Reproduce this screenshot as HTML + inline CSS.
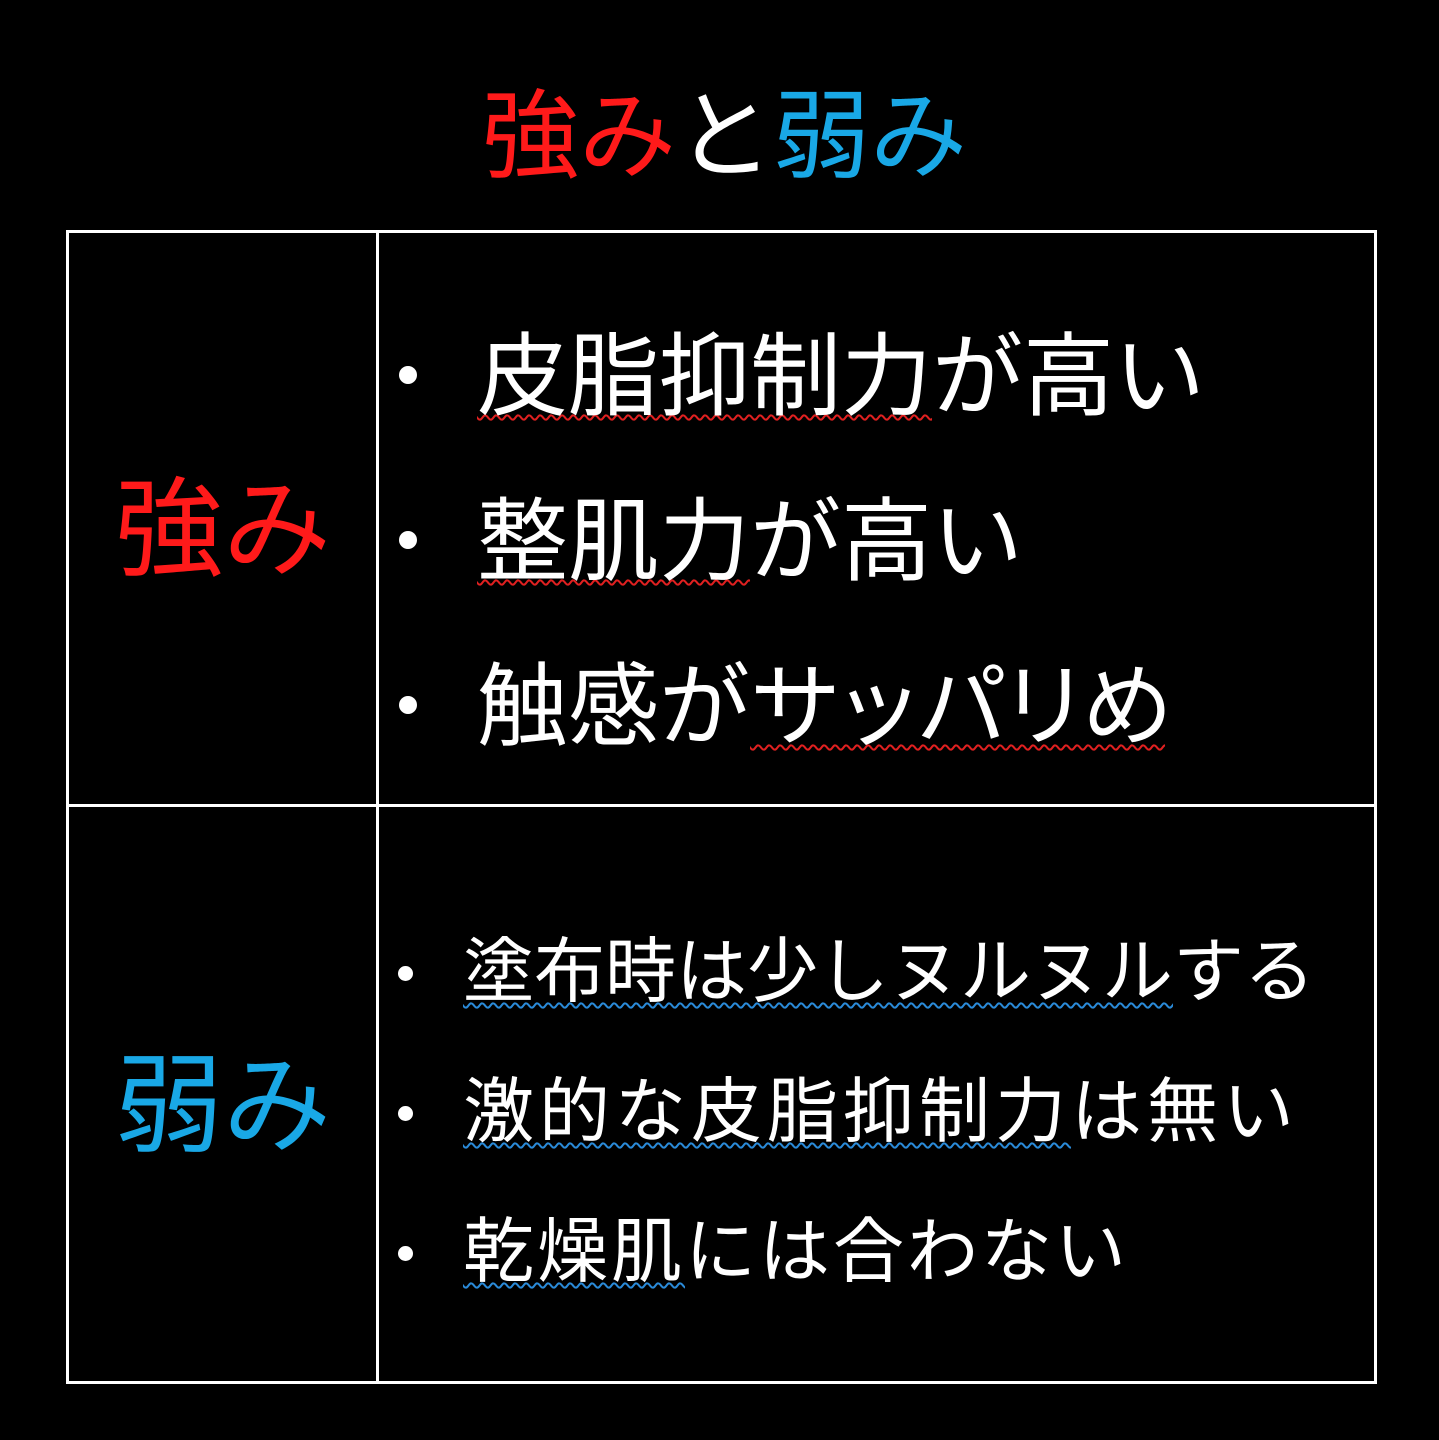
<!DOCTYPE html>
<html><head><meta charset="utf-8"><style>
html,body{margin:0;padding:0;background:#000;}
body{width:1439px;height:1440px;position:relative;overflow:hidden;font-family:"Liberation Sans","Noto Sans CJK JP",sans-serif;color:#fff;}
.t{position:absolute;line-height:1;white-space:nowrap;}
.ln{position:absolute;background:#fff;}
.r{color:#ff1a1a}.b{color:#19a8e6}
.ur{text-decoration:underline wavy #e02020;text-decoration-thickness:1.5px;text-underline-offset:6px}
.ub{text-decoration:underline wavy #2a8ad8;text-decoration-thickness:1.5px;text-underline-offset:6px}
.dot{position:absolute;width:18px;height:18px;border-radius:50%;background:#fff;}
.dot2{position:absolute;width:15px;height:15px;border-radius:50%;background:#fff;}
</style></head><body>
<div class="t" style="left:482px;top:88px;font-size:97px;"><span class="r">強み</span>と<span class="b">弱み</span></div>

<div class="ln" style="left:66px;top:230px;width:1311px;height:3px"></div>
<div class="ln" style="left:66px;top:1381px;width:1311px;height:3px"></div>
<div class="ln" style="left:66px;top:230px;width:3px;height:1154px"></div>
<div class="ln" style="left:1374px;top:230px;width:3px;height:1154px"></div>
<div class="ln" style="left:376px;top:230px;width:3px;height:1154px"></div>
<div class="ln" style="left:66px;top:804px;width:1311px;height:3px"></div>

<div class="t r" style="left:115px;top:476px;font-size:108px;">強み</div>
<div class="t b" style="left:115px;top:1052px;font-size:108px;">弱み</div>

<div class="dot" style="left:399px;top:366px"></div>
<div class="dot" style="left:399px;top:531px"></div>
<div class="dot" style="left:399px;top:696px"></div>
<div class="t" style="left:477px;top:332px;font-size:91px;"><span class="ur">皮脂抑制力</span>が高い</div>
<div class="t" style="left:477px;top:497px;font-size:91px;"><span class="ur">整肌力</span>が高い</div>
<div class="t" style="left:477px;top:662px;font-size:91px;">触感が<span class="ur" style="letter-spacing:-8px">サッパリめ</span></div>

<div class="dot2" style="left:398px;top:966px"></div>
<div class="dot2" style="left:398px;top:1106px"></div>
<div class="dot2" style="left:398px;top:1246px"></div>
<div class="t" style="left:463px;top:937px;font-size:71px;"><span class="ub">塗布時は少しヌルヌル</span>する</div>
<div class="t" style="left:463px;top:1077px;font-size:71px;letter-spacing:5px"><span class="ub">激的な皮脂抑制力</span>は無い</div>
<div class="t" style="left:463px;top:1217px;font-size:71px;letter-spacing:3px"><span class="ub">乾燥肌</span>には合わない</div>
</body></html>
